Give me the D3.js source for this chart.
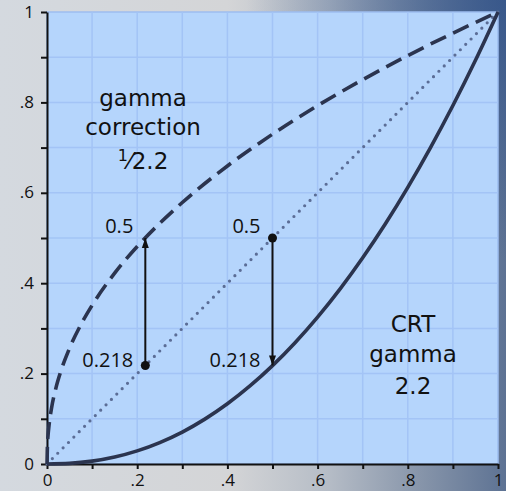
<!DOCTYPE html>
<html>
<head>
<meta charset="utf-8">
<script src="https://cdn.jsdelivr.net/npm/d3@7"></script>
<style>
  html, body { margin: 0; padding: 0; }
  svg { display: block; font-family: "Open Sans", "Noto Sans", sans-serif; }
</style>
</head>
<body>
<svg id="chart" width="506" height="491"></svg>
<script>
// Axis ticks and labels
const tickValues = [0, 0.2, 0.4, 0.6, 0.8, 1];
const tickLabels = ["0", ".2", ".4", ".6", ".8", "1"];
const gridValues = [0.1, 0.2, 0.3, 0.4, 0.5, 0.6, 0.7, 0.8, 0.9];

// Gamma correction curve (exponent 1/2.2)
const corrX = [0, 0.001, 0.002, 0.005, 0.01, 0.02, 0.03, 0.05, 0.075, 0.1, 0.15, 0.2, 0.25, 0.3, 0.4, 0.5, 0.6, 0.7, 0.8, 0.9, 1];
const corrY = [0, 0.0433, 0.0593, 0.0900, 0.1233, 0.1690, 0.2031, 0.2562, 0.3081, 0.3511, 0.4222, 0.4811, 0.5325, 0.5785, 0.6594, 0.7297, 0.7928, 0.8503, 0.9036, 0.9532, 1];

// CRT response curve (exponent 2.2)
const crtX = [0, 0.05, 0.1, 0.15, 0.2, 0.25, 0.3, 0.35, 0.4, 0.45, 0.5, 0.55, 0.6, 0.65, 0.7, 0.75, 0.8, 0.85, 0.9, 0.95, 1];
const crtY = [0, 0.0014, 0.0063, 0.0154, 0.0290, 0.0474, 0.0707, 0.0993, 0.1332, 0.1726, 0.2176, 0.2684, 0.3250, 0.3876, 0.4563, 0.5310, 0.6121, 0.6994, 0.7931, 0.8933, 1];

// Identity line
const linX = [0, 1];
const linY = [0, 1];

// Worked examples: arrow position, start value, end value and their labels
const arrowsX = [0.218, 0.5];
const arrowsFrom = [0.218, 0.5];
const arrowsTo = [0.5, 0.218];
const labelTop = ["0.5", "0.5"];
const labelBottom = ["0.218", "0.218"];

const W = 506, H = 491;
const margin = { left: 47, right: 8, top: 12, bottom: 27 };
const svg = d3.select("#chart");
const defs = svg.append("defs");

// Backdrop: grey to steel blue, darker toward the upper right
const bg = defs.append("linearGradient").attr("id", "bg")
  .attr("x1", 0).attr("y1", 0).attr("x2", 1).attr("y2", 0);
[[0, "#d4d9df"], [0.45, "#d4d5d7"], [0.65, "#b5bcc6"], [0.83, "#8795aa"], [1, "#5d7293"]]
  .forEach(([o, c]) => bg.append("stop").attr("offset", o).attr("stop-color", c));
const glow = defs.append("radialGradient").attr("id", "corner")
  .attr("gradientUnits", "userSpaceOnUse")
  .attr("cx", W).attr("cy", 0).attr("r", 260);
glow.append("stop").attr("offset", 0).attr("stop-color", "#2c4f88").attr("stop-opacity", 0.75);
glow.append("stop").attr("offset", 1).attr("stop-color", "#2c4f88").attr("stop-opacity", 0);

svg.append("rect").attr("width", W).attr("height", H).attr("fill", "url(#bg)");
svg.append("rect").attr("width", W).attr("height", H).attr("fill", "url(#corner)");

const x = d3.scaleLinear().domain([0, 1]).range([margin.left, W - margin.right]);
const y = d3.scaleLinear().domain([0, 1]).range([H - margin.bottom, margin.top]);

// Plot panel
svg.append("rect")
  .attr("x", x(0)).attr("y", y(1))
  .attr("width", x(1) - x(0)).attr("height", y(0) - y(1))
  .attr("fill", "#b5d5fc")
  .attr("stroke", "#9dbdf0").attr("stroke-width", 1.5);

const grid = svg.append("g").attr("stroke", "#a3c4f6").attr("stroke-width", 1.5);
grid.selectAll(".gx").data(gridValues).join("line")
  .attr("x1", d => x(d)).attr("x2", d => x(d))
  .attr("y1", y(0)).attr("y2", y(1));
grid.selectAll(".gy").data(gridValues).join("line")
  .attr("y1", d => y(d)).attr("y2", d => y(d))
  .attr("x1", x(0)).attr("x2", x(1));

// Axes: a tick every 0.1, a label every 0.2
const allTicks = [0, ...gridValues, 1];
const fmt = d => {
  const i = tickValues.findIndex(t => Math.abs(t - d) < 1e-9);
  return i >= 0 ? tickLabels[i] : "";
};
const xAxis = d3.axisBottom(x).tickValues(allTicks).tickSizeInner(5).tickSizeOuter(0).tickFormat(fmt);
const yAxis = d3.axisLeft(y).tickValues(allTicks).tickSizeInner(6).tickSizeOuter(0).tickFormat(fmt);

const gx = svg.append("g").attr("transform", `translate(0,${y(0)})`).call(xAxis);
const gy = svg.append("g").attr("transform", `translate(${x(0)},0)`).call(yAxis);
[gx, gy].forEach(g => {
  g.select(".domain").attr("stroke", "#111").attr("stroke-width", 2);
  g.selectAll(".tick line").attr("stroke", "#111").attr("stroke-width", 2);
  g.selectAll(".tick text").attr("fill", "#111").attr("font-size", 17)
    .attr("font-family", "'Open Sans', 'Noto Sans', sans-serif");
});
gx.selectAll(".tick text").attr("y", 22).attr("dy", null);
gy.selectAll(".tick text").attr("x", -13).attr("dy", "0.3em");

// Curves
const line = d3.line().x(d => x(d[0])).y(d => y(d[1])).curve(d3.curveMonotoneX);
const ink = "#2b344f";

svg.append("path")
  .attr("d", line(linX.map((v, i) => [v, linY[i]])))
  .attr("fill", "none").attr("stroke", "#5b6d96").attr("stroke-width", 3.2)
  .attr("stroke-linecap", "round").attr("stroke-dasharray", "0 7.6");

svg.append("path")
  .attr("d", line(corrX.map((v, i) => [v, corrY[i]])))
  .attr("fill", "none").attr("stroke", ink).attr("stroke-width", 3.6)
  .attr("stroke-dasharray", "17 8");

svg.append("path")
  .attr("d", line(crtX.map((v, i) => [v, crtY[i]])))
  .attr("fill", "none").attr("stroke", ink).attr("stroke-width", 3.6);

// Arrows
defs.append("marker").attr("id", "head")
  .attr("viewBox", "0 0 10 10").attr("refX", 10).attr("refY", 5)
  .attr("markerWidth", 10).attr("markerHeight", 10).attr("markerUnits", "userSpaceOnUse")
  .attr("orient", "auto")
  .append("path").attr("d", "M0,1.5 L10,5 L0,8.5 Z").attr("fill", "#111");

arrowsX.forEach((ax, i) => {
  svg.append("line")
    .attr("x1", x(ax)).attr("x2", x(ax))
    .attr("y1", y(arrowsFrom[i])).attr("y2", y(arrowsTo[i]))
    .attr("stroke", "#111").attr("stroke-width", 2)
    .attr("marker-end", "url(#head)");
  svg.append("circle").attr("cx", x(ax)).attr("cy", y(arrowsFrom[i])).attr("r", 4.5).attr("fill", "#111");
});

const lab = svg.append("g").attr("fill", "#111").attr("font-size", 20).attr("text-anchor", "end");
arrowsX.forEach((ax, i) => {
  const top = Math.max(arrowsFrom[i], arrowsTo[i]);
  const bottom = Math.min(arrowsFrom[i], arrowsTo[i]);
  lab.append("text").attr("x", x(ax) - 12).attr("y", y(top) - 5).text(labelTop[i]);
  lab.append("text").attr("x", x(ax) - 12).attr("y", y(bottom) + 2).text(labelBottom[i]);
});

// Curve captions, set in a face with compact line metrics so the lines stay tight
const cap = svg.append("g").attr("fill", "#111").attr("font-size", 23)
  .attr("font-family", "'DejaVu Sans', sans-serif").attr("text-anchor", "middle");

cap.append("text").attr("x", 143).attr("y", 106).text("gamma");
cap.append("text").attr("x", 143).attr("y", 135).text("correction");
const frac = cap.append("text").attr("x", 143).attr("y", 169);
frac.append("tspan").attr("font-size", 16).attr("dy", -8).text("1");
frac.append("tspan").attr("dy", 8).text("\u20442.2");

cap.append("text").attr("x", 413).attr("y", 332).text("CRT");
cap.append("text").attr("x", 413).attr("y", 362).text("gamma");
cap.append("text").attr("x", 413).attr("y", 394).text("2.2");
</script>
</body>
</html>
